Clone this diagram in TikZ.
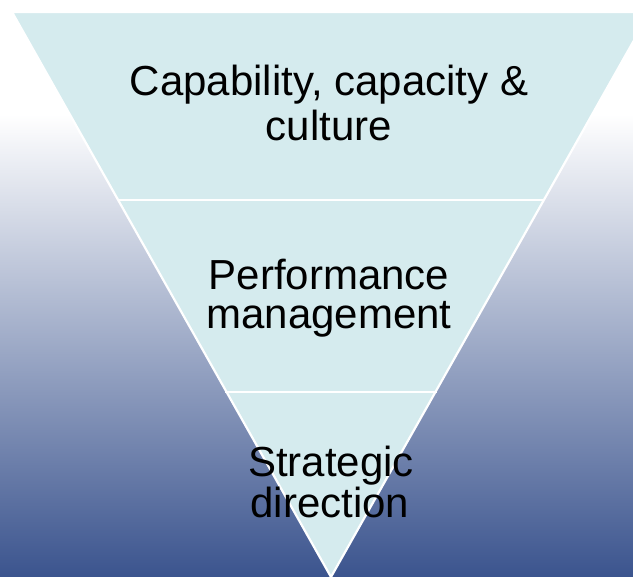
\documentclass[tikz,border=0pt]{standalone}
\usepackage{fontspec}
\setmainfont{Liberation Sans}
\definecolor{tierfill}{HTML}{D5EBEE}
\definecolor{deepblue}{HTML}{3B548E}
\begin{document}
\begin{tikzpicture}[x=1pt,y=1pt,
  tiertext/.style={anchor=base,inner sep=0pt,font=\fontsize{42}{44}\selectfont,text=black},
  divider/.style={draw=white,line width=2.2pt}]
\useasboundingbox (0,0) rectangle (633,577);
\begin{scope}
  \clip (0,0) rectangle (633,577);
  % backdrop: white top fading into deep blue
  \fill[white] (0,462) rectangle (633,577);
  \shade[top color=white,bottom color=deepblue] (0,0) rectangle (633,462.5);
  % inverted pyramid
  \coordinate (tl) at (12,565);
  \coordinate (tr) at (650,565);
  \coordinate (ap) at (331,0);
  \filldraw[fill=tierfill,draw=white,line width=2.2pt,line join=miter] (tl) -- (tr) -- (ap) -- cycle;
  % tier dividers
  \coordinate (d1l) at (118,377);
  \coordinate (d1r) at (543,377);
  \coordinate (d2l) at (225,185);
  \coordinate (d2r) at (437,185);
  \draw[divider] (d1l) -- (d1r);
  \draw[divider] (d2l) -- (d2r);
\end{scope}
% tier labels
\node[tiertext] (t1a) at (329,481) {Capability, capacity \&};
\node[tiertext] (t1b) at (329,436) {culture};
\node[tiertext] (t2a) at (329,287) {Performance};
\node[tiertext] (t2b) at (329,248) {management};
\node[tiertext] (t3a) at (331,100) {Strategic};
\node[tiertext] (t3b) at (330,59) {direction};
\end{tikzpicture}
\end{document}
